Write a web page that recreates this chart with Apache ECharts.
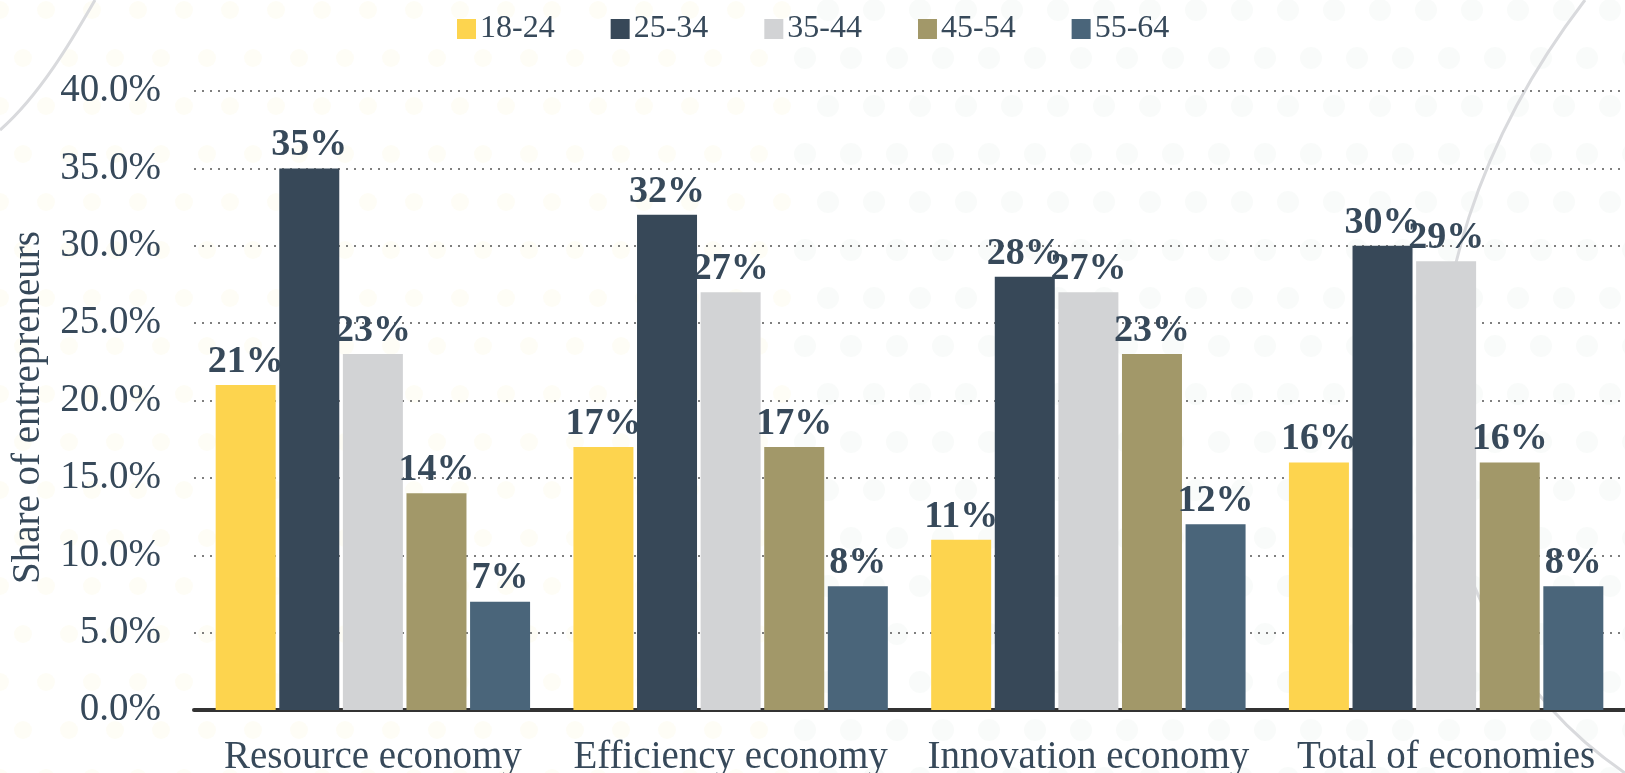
<!DOCTYPE html>
<html>
<head>
<meta charset="utf-8">
<script src="https://cdn.jsdelivr.net/npm/echarts@6/dist/echarts.min.js"></script>
<style>
  html, body { margin: 0; padding: 0; background: #ffffff; }
  #chart { width: 1625px; height: 773px; }
</style>
</head>
<body>
<div id="chart"></div>
<script>
// Economy groups along the x axis
const categories = ['Resource economy', 'Efficiency economy', 'Innovation economy', 'Total of economies'];

// Age bands (legend order)
const ageGroups = ['18-24', '25-34', '35-44', '45-54', '55-64'];

// Share of entrepreneurs per age band, in percent, one value per economy group
const share18to24 = [21, 17, 11, 16];
const share25to34 = [35, 32, 28, 30];
const share35to44 = [23, 27, 27, 29];
const share45to54 = [14, 17, 23, 16];
const share55to64 = [7, 8, 12, 8];

// Value axis ticks (percent)
const yTicks = [0, 5, 10, 15, 20, 25, 30, 35, 40];

const seriesValues = [share18to24, share25to34, share35to44, share45to54, share55to64];
const palette = ['#FDD44E', '#374858', '#D2D3D5', '#A29869', '#4A657A'];

const textColor = '#37495a';
const serif = '"Liberation Serif", "Times New Roman", serif';

const chart = echarts.init(document.getElementById('chart'), null, { renderer: 'canvas' });

// Soft halftone dots in the background: warm on the left, cool on the right
const dots = [];
for (let row = 0; row < 17; row++) {
  for (let col = 0; col < 36; col++) {
    const x = col * 46 + (row % 2) * 23;
    const y = row * 48 + 10;
    const warm = x < 800;
    dots.push({
      type: 'circle', z: -20, silent: true,
      shape: { cx: x, cy: y, r: warm ? 9 : 11 },
      style: { fill: warm ? 'rgba(245, 235, 170, 0.10)' : 'rgba(200, 222, 205, 0.11)' }
    });
  }
}

const series = ageGroups.map((name, i) => ({
  name: name,
  type: 'bar',
  data: seriesValues[i],
  barWidth: 60,
  barGap: '6%',
  itemStyle: { color: palette[i] },
  label: {
    show: true,
    position: 'top',
    distance: 4,
    formatter: p => p.value + '%',
    color: textColor,
    fontFamily: serif,
    fontWeight: 'bold',
    fontSize: 38
  }
}));

chart.setOption({
  backgroundColor: '#ffffff',
  animation: false,
  color: palette,
  graphic: dots.concat([
    // faint decorative arcs behind the plot
    {
      type: 'bezierCurve', z: -10, silent: true,
      shape: { x1: 0, y1: 130, x2: 95, y2: 0, cpx1: 40, cpy1: 95, cpx2: 72, cpy2: 40 },
      style: { stroke: '#d9dadd', lineWidth: 3, fill: null }
    },
    {
      type: 'bezierCurve', z: -10, silent: true,
      shape: { x1: 1585, y1: 0, x2: 1625, y2: 773, cpx1: 1370, cpy1: 280, cpx2: 1400, cpy2: 620 },
      style: { stroke: '#d9dadd', lineWidth: 3, fill: null }
    }
  ]),
  legend: {
    data: ageGroups,
    top: 8,
    left: 452,
    itemWidth: 19,
    itemHeight: 20,
    itemGap: 56,
    icon: 'rect',
    textStyle: { color: textColor, fontFamily: serif, fontSize: 32, padding: [0, 0, 0, -1] }
  },
  grid: { left: 194, right: 0, top: 91, bottom: 63, containLabel: false, outerBoundsMode: 'none' },
  xAxis: {
    type: 'category',
    data: categories,
    axisTick: { show: false },
    axisLine: { show: true, lineStyle: { color: '#333333', width: 4 } },
    axisLabel: {
      color: textColor, fontFamily: serif, fontSize: 39, margin: 28, interval: 0
    },
    splitLine: { show: false }
  },
  yAxis: {
    type: 'value',
    min: yTicks[0],
    max: yTicks[yTicks.length - 1],
    interval: yTicks[1] - yTicks[0],
    name: 'Share of entrepreneurs',
    nameLocation: 'middle',
    nameGap: 146,
    nameRotate: 90,
    nameTextStyle: { color: textColor, fontFamily: serif, fontSize: 39, padding: [0, 14, 0, 0] },
    axisLine: { show: false },
    axisTick: { show: false },
    axisLabel: {
      color: textColor, fontFamily: serif, fontSize: 39, margin: 33,
      formatter: v => v.toFixed(1) + '%'
    },
    splitLine: { show: true, lineStyle: { color: '#555555', type: [2, 6], width: 1.5 } }
  },
  series: series
});
</script>
</body>
</html>
